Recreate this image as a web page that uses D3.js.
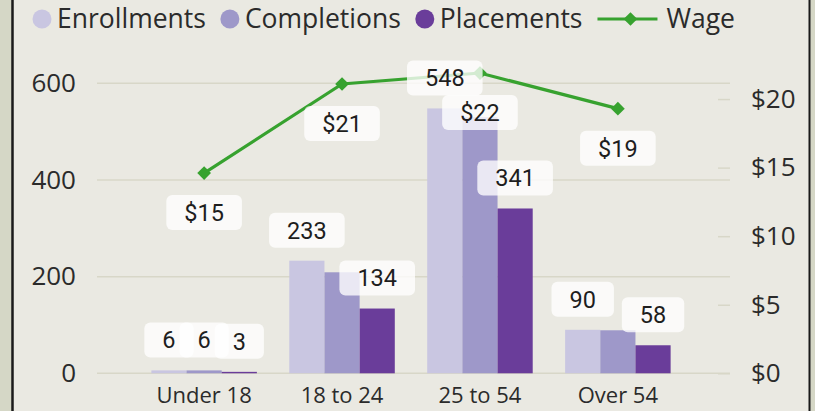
<!DOCTYPE html>
<html>
<head>
<meta charset="utf-8">
<script src="https://cdn.jsdelivr.net/npm/d3@7"></script>
<style>
  body { margin: 0; background: #d5d7c6; }
  svg { display: block; }
</style>
</head>
<body>
<svg id="chart" width="815" height="411"></svg>
<script>
// --- data ---
const categories = ['Under 18', '18 to 24', '25 to 54', 'Over 54'];
const seriesNames = ['Enrollments', 'Completions', 'Placements'];
const enrollments = [6, 233, 548, 90];
const completions = [6, 209, 530, 89];
const placements = [3, 134, 341, 58];
const wage = [14.6, 21.1, 21.9, 19.3];
const wageLabels = ['$15', '$21', '$22', '$19'];
const leftTicks = [0, 200, 400, 600];
const rightTicks = [0, 5, 10, 15, 20];
// labels the original hides because they collide
const completionLabelShown = [true, false, false, false];

const colors = {
    Enrollments: '#c9c6e1',
    Completions: '#9e98c9',
    Placements: '#6a3d9a',
    wage: '#37a22f',
    grid: '#d8d7c8',
    text: '#2b2b2b',
    panel: '#eae9e2'
};

const svg = d3.select('#chart');
const W = 815, H = 411;

// panel with dark side borders
svg.append('rect').attr('x', 12).attr('y', 0).attr('width', 798).attr('height', H).attr('fill', colors.panel);
svg.append('line').attr('x1', 12.5).attr('x2', 12.5).attr('y1', 0).attr('y2', H).attr('stroke', '#1a1a1a').attr('stroke-width', 2.5);
svg.append('line').attr('x1', 809.5).attr('x2', 809.5).attr('y1', 0).attr('y2', H).attr('stroke', '#1a1a1a').attr('stroke-width', 2);

const plot = { left: 97, right: 730, top: 83.3, bottom: 373.3 };

const x = d3.scaleBand().domain(categories).range([94, 728]).paddingInner(0.235).paddingOuter(0.416);
const x1 = d3.scaleBand().domain(seriesNames).range([0, x.bandwidth()]).padding(0);
const y = d3.scaleLinear().domain([0, 600]).range([plot.bottom, plot.top]);
// right axis shares the pixel range: $20 sits just below the 600 gridline
const y2 = d3.scaleLinear().domain([0, 21.15]).range([plot.bottom, plot.top]);

// gridlines
svg.append('g').selectAll('line').data(leftTicks).join('line')
    .attr('x1', plot.left).attr('x2', plot.right)
    .attr('y1', d => y(d)).attr('y2', d => y(d))
    .attr('stroke', colors.grid).attr('stroke-width', 1.5);

// left axis
const yAxis = svg.append('g').attr('transform', 'translate(76,0)')
    .call(d3.axisLeft(y).tickValues(leftTicks).tickSize(0).tickPadding(0));
yAxis.select('.domain').remove();
yAxis.selectAll('text').attr('font-family', '"Open Sans", sans-serif').attr('font-size', 26).attr('fill', colors.text);

// right axis
const y2Axis = svg.append('g').attr('transform', `translate(${plot.right},0)`)
    .call(d3.axisRight(y2).tickValues(rightTicks).tickSize(12).tickPadding(9).tickFormat(d => '$' + d));
y2Axis.select('.domain').remove();
y2Axis.selectAll('line').attr('stroke', colors.grid).attr('stroke-width', 1.5).attr('transform', 'translate(-12,0)');
y2Axis.selectAll('text').attr('font-family', '"Open Sans", sans-serif').attr('font-size', 26).attr('fill', colors.text);

// category axis
svg.append('g').selectAll('text').data(categories).join('text')
    .attr('x', d => x(d) + x.bandwidth() / 2)
    .attr('y', 403)
    .attr('text-anchor', 'middle')
    .attr('font-family', '"Open Sans", sans-serif').attr('font-size', 22)
    .attr('fill', colors.text)
    .text(d => d);

// bars
const seriesValues = { Enrollments: enrollments, Completions: completions, Placements: placements };
const barData = [];
categories.forEach((c, i) => {
    seriesNames.forEach(s => {
        const shown = s === 'Completions' ? completionLabelShown[i] : true;
        barData.push({ cat: c, series: s, value: seriesValues[s][i], shown });
    });
});

svg.append('g').selectAll('rect').data(barData).join('rect')
    .attr('x', d => x(d.cat) + x1(d.series))
    .attr('y', d => y(d.value))
    .attr('width', x1.bandwidth())
    .attr('height', d => y(0) - y(d.value))
    .attr('fill', d => colors[d.series]);

// wage line
const wagePts = categories.map((c, i) => ({ cat: c, value: wage[i], label: wageLabels[i] }));
const line = d3.line().x(d => x(d.cat) + x.bandwidth() / 2).y(d => y2(d.value));
svg.append('path').datum(wagePts)
    .attr('d', line).attr('fill', 'none')
    .attr('stroke', colors.wage).attr('stroke-width', 3.2);
const diamond = d3.symbol().type(d3.symbolDiamond2).size(120);
svg.append('g').selectAll('path').data(wagePts).join('path')
    .attr('transform', d => `translate(${x(d.cat) + x.bandwidth() / 2},${y2(d.value)})`)
    .attr('d', diamond).attr('fill', colors.wage);

// data labels (white rounded boxes on top of everything)
const labelFont = 'Roboto, sans-serif';
const labels = [];
barData.filter(d => d.shown).forEach(d => {
    labels.push({ cx: x(d.cat) + x1(d.series) + x1.bandwidth() / 2, bottom: y(d.value) - 13, text: String(d.value) });
});
wagePts.forEach(d => {
    labels.push({ cx: x(d.cat) + x.bandwidth() / 2, top: y2(d.value) + 22, text: d.label });
});

const lg = svg.append('g');
labels.forEach(l => {
    const g = lg.append('g');
    const t = g.append('text')
        .attr('font-family', labelFont).attr('font-size', 23.5)
        .attr('fill', '#1e1e1e').attr('text-anchor', 'middle')
        .text(l.text);
    const w = t.node().getComputedTextLength() + 36;
    const h = 35;
    const top = l.top !== undefined ? l.top : l.bottom - h;
    g.insert('rect', 'text')
        .attr('x', l.cx - w / 2).attr('y', top)
        .attr('width', w).attr('height', h).attr('rx', 6)
        .attr('fill', '#ffffff').attr('fill-opacity', 0.78);
    t.attr('x', l.cx).attr('y', top + h / 2).attr('dy', '0.36em');
});

// legend
const legend = svg.append('g').attr('font-family', '"Open Sans", sans-serif').attr('font-size', 26.5);
let lx = 32;
const ly = 19;
seriesNames.forEach(s => {
    legend.append('circle').attr('cx', lx + 10).attr('cy', ly).attr('r', 9.5).attr('fill', colors[s]);
    const t = legend.append('text').attr('x', lx + 25).attr('y', ly).attr('dy', '0.35em')
        .attr('fill', colors.text).text(s);
    lx += 25 + t.node().getComputedTextLength() + 14;
});
legend.append('line').attr('x1', lx + 1).attr('x2', lx + 61).attr('y1', ly).attr('y2', ly)
    .attr('stroke', colors.wage).attr('stroke-width', 3.2);
legend.append('path').attr('transform', `translate(${lx + 34},${ly})`).attr('d', diamond).attr('fill', colors.wage);
legend.append('text').attr('x', lx + 70).attr('y', ly).attr('dy', '0.35em').attr('fill', colors.text).text('Wage');
</script>
</body>
</html>
